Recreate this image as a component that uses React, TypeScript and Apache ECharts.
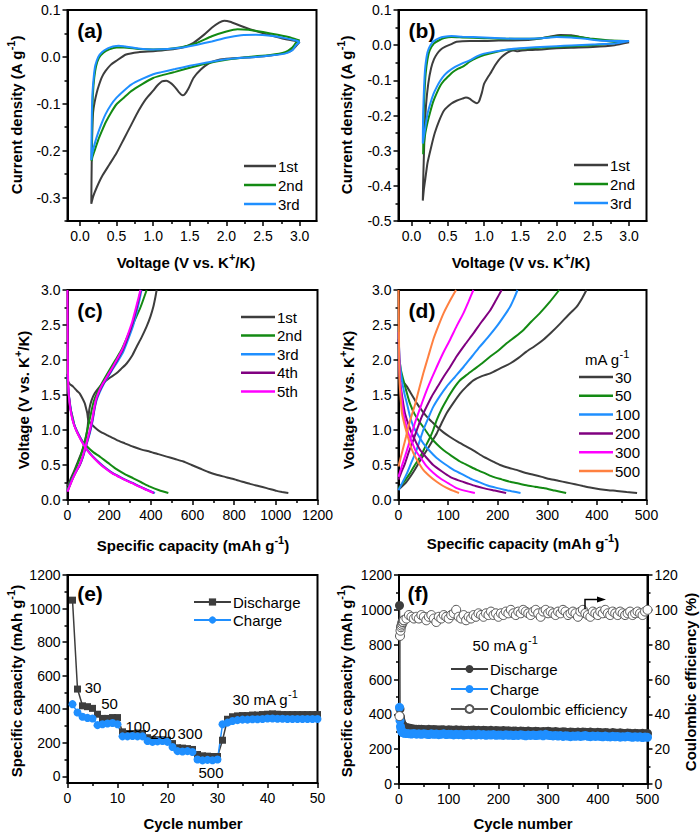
import React, { useEffect, useRef } from 'react';
import * as echarts from 'echarts';

// ---------------- DATA ----------------
// (a) CV, [voltage, current density]
const a1st = [[3.0,0.032],[2.9,0.015],[2.8,0.008],[2.6,0.003],[2.4,0.0],[2.2,-0.002],[2.0,-0.004],[1.85,-0.008],[1.75,-0.015],[1.65,-0.027],[1.55,-0.045],[1.48,-0.068],[1.43,-0.08],[1.4,-0.082],[1.35,-0.075],[1.3,-0.065],[1.25,-0.057],[1.18,-0.051],[1.12,-0.052],[1.05,-0.062],[1.0,-0.072],[0.9,-0.09],[0.8,-0.115],[0.7,-0.145],[0.6,-0.175],[0.5,-0.205],[0.4,-0.23],[0.3,-0.255],[0.23,-0.278],[0.18,-0.298],[0.155,-0.313],
  [0.158,-0.26],[0.163,-0.2],[0.17,-0.15],[0.18,-0.118],[0.2,-0.097],[0.23,-0.076],[0.26,-0.06],[0.3,-0.043],[0.35,-0.03],[0.42,-0.017],[0.49,-0.009],[0.63,0.005],[0.8,0.01],[1.0,0.012],[1.2,0.015],[1.4,0.02],[1.55,0.03],[1.7,0.048],[1.8,0.062],[1.9,0.073],[1.97,0.077],[2.05,0.075],[2.2,0.066],[2.4,0.055],[2.6,0.046],[2.8,0.038],[2.95,0.034],[3.0,0.032]];
const a2nd = [[3.0,0.035],[2.95,0.03],[2.9,0.02],[2.8,0.01],[2.6,0.004],[2.3,0.0],[2.0,-0.006],[1.7,-0.015],[1.5,-0.023],[1.3,-0.032],[1.1,-0.04],[1.0,-0.045],[0.85,-0.058],[0.7,-0.073],[0.6,-0.087],[0.5,-0.101],[0.42,-0.12],[0.35,-0.14],[0.3,-0.158],[0.25,-0.177],[0.2,-0.2],[0.17,-0.214],[0.16,-0.222],
  [0.163,-0.19],[0.168,-0.13],[0.177,-0.08],[0.195,-0.045],[0.22,-0.02],[0.26,-0.002],[0.32,0.009],[0.4,0.016],[0.5,0.02],[0.6,0.02],[0.8,0.017],[1.0,0.016],[1.2,0.017],[1.4,0.021],[1.6,0.03],[1.8,0.044],[2.0,0.054],[2.15,0.059],[2.3,0.058],[2.5,0.053],[2.7,0.047],[2.9,0.04],[3.0,0.035]];
const a3rd = [[3.0,0.032],[2.95,0.025],[2.9,0.014],[2.8,0.007],[2.6,0.003],[2.4,0.0],[2.0,-0.005],[1.7,-0.013],[1.5,-0.019],[1.3,-0.026],[1.1,-0.033],[1.0,-0.037],[0.85,-0.047],[0.7,-0.059],[0.6,-0.072],[0.5,-0.087],[0.42,-0.103],[0.35,-0.122],[0.3,-0.14],[0.25,-0.161],[0.2,-0.186],[0.17,-0.205],[0.155,-0.22],
  [0.158,-0.18],[0.163,-0.12],[0.172,-0.075],[0.19,-0.04],[0.21,-0.018],[0.25,0.0],[0.3,0.01],[0.38,0.018],[0.45,0.022],[0.53,0.024],[0.62,0.022],[0.8,0.018],[1.0,0.016],[1.2,0.017],[1.4,0.02],[1.6,0.026],[1.8,0.033],[2.0,0.041],[2.2,0.046],[2.4,0.047],[2.6,0.045],[2.8,0.04],[2.95,0.035],[3.0,0.032]];

// (b) CV
const b1st = [[3.0,0.008],[2.8,0.0],[2.5,-0.005],[2.2,-0.007],[2.0,-0.009],[1.8,-0.012],[1.6,-0.014],[1.5,-0.016],[1.45,-0.017],[1.4,-0.015],[1.35,-0.018],[1.3,-0.024],[1.25,-0.032],[1.2,-0.043],[1.15,-0.058],[1.1,-0.076],[1.05,-0.092],[1.0,-0.11],[0.97,-0.135],[0.93,-0.16],[0.9,-0.165],[0.85,-0.16],[0.8,-0.152],[0.75,-0.149],[0.7,-0.152],[0.62,-0.158],[0.55,-0.166],[0.45,-0.185],[0.38,-0.215],[0.32,-0.25],[0.27,-0.29],[0.22,-0.335],[0.19,-0.38],[0.17,-0.41],[0.155,-0.442],
  [0.16,-0.39],[0.168,-0.33],[0.18,-0.25],[0.2,-0.17],[0.23,-0.11],[0.27,-0.065],[0.31,-0.04],[0.35,-0.025],[0.4,-0.013],[0.46,-0.005],[0.55,0.003],[0.62,0.0095],[0.8,0.012],[1.0,0.012],[1.2,0.013],[1.5,0.014],[1.7,0.017],[1.9,0.024],[2.05,0.029],[2.2,0.028],[2.4,0.02],[2.6,0.014],[2.8,0.012],[3.0,0.01]];
const b2nd = [[2.95,0.012],[2.8,0.006],[2.5,0.0],[2.2,-0.003],[2.0,-0.005],[1.7,-0.008],[1.5,-0.01],[1.3,-0.014],[1.15,-0.02],[1.0,-0.028],[0.9,-0.036],[0.8,-0.047],[0.75,-0.055],[0.7,-0.062],[0.65,-0.066],[0.6,-0.072],[0.55,-0.08],[0.5,-0.09],[0.45,-0.1],[0.4,-0.114],[0.35,-0.135],[0.3,-0.16],[0.26,-0.188],[0.22,-0.22],[0.19,-0.25],[0.17,-0.28],[0.16,-0.31],
  [0.163,-0.25],[0.167,-0.2],[0.18,-0.13],[0.195,-0.08],[0.22,-0.04],[0.25,-0.015],[0.31,0.005],[0.38,0.014],[0.45,0.02],[0.55,0.023],[0.7,0.022],[1.0,0.02],[1.3,0.018],[1.6,0.018],[1.8,0.02],[2.0,0.025],[2.15,0.026],[2.3,0.024],[2.5,0.018],[2.7,0.014],[2.95,0.012]];
const b3rd = [[3.0,0.012],[2.8,0.005],[2.5,0.002],[2.2,-0.001],[2.0,-0.003],[1.7,-0.006],[1.5,-0.009],[1.3,-0.013],[1.15,-0.018],[1.0,-0.024],[0.9,-0.032],[0.8,-0.043],[0.7,-0.052],[0.6,-0.062],[0.5,-0.076],[0.45,-0.086],[0.4,-0.1],[0.35,-0.118],[0.3,-0.14],[0.26,-0.165],[0.22,-0.195],[0.19,-0.233],[0.17,-0.26],[0.155,-0.28],
  [0.158,-0.22],[0.165,-0.16],[0.177,-0.1],[0.19,-0.06],[0.22,-0.02],[0.26,0.0],[0.31,0.012],[0.38,0.02],[0.45,0.024],[0.55,0.026],[0.7,0.024],[1.0,0.022],[1.3,0.019],[1.5,0.018],[1.8,0.02],[2.0,0.023],[2.2,0.022],[2.4,0.018],[2.6,0.013],[2.8,0.012],[3.0,0.012]];

// (c) charge/discharge profiles, [capacity, voltage]
const c1Dis = [[0,1.71],[10,1.66],[27,1.62],[45,1.56],[59,1.52],[72,1.45],[83,1.38],[90,1.3],[95,1.24],[99,1.15],[110,1.1],[130,1.04],[155,0.98],[195,0.92],[235,0.86],[275,0.81],[316,0.76],[356,0.72],[396,0.69],[436,0.655],[476,0.62],[516,0.585],[556,0.55],[596,0.5],[636,0.45],[676,0.4],[716,0.36],[756,0.33],[796,0.3],[836,0.265],[876,0.23],[916,0.2],[956,0.17],[1004,0.13],[1030,0.115],[1060,0.1]];
const c1Chg = [[0,0.2],[15,0.3],[30,0.4],[50,0.55],[70,0.7],[85,0.85],[95,1.0],[100,1.15],[105,1.3],[115,1.42],[130,1.52],[150,1.6],[171,1.67],[200,1.74],[235,1.81],[260,1.88],[284,1.95],[310,2.06],[332,2.19],[355,2.32],[380,2.48],[398,2.62],[412,2.76],[422,2.9],[428,3.0]];
const c2Dis = [[0,1.75],[3,1.6],[8,1.45],[15,1.3],[25,1.18],[35,1.05],[50,0.95],[70,0.85],[95,0.76],[125,0.68],[155,0.62],[195,0.53],[235,0.44],[275,0.37],[316,0.31],[356,0.25],[396,0.19],[440,0.14],[484,0.1]];
const c2Chg = [[0,0.15],[20,0.3],[40,0.45],[60,0.6],[80,0.8],[95,1.0],[110,1.2],[125,1.4],[145,1.55],[171,1.7],[200,1.85],[230,2.0],[260,2.15],[290,2.35],[320,2.55],[350,2.75],[380,3.0]];
const c3Dis = [[0,1.78],[5,1.55],[12,1.38],[19,1.24],[30,1.1],[43,1.0],[60,0.9],[75,0.81],[100,0.7],[123,0.62],[155,0.53],[187,0.45],[220,0.38],[252,0.33],[285,0.28],[316,0.24],[350,0.19],[380,0.15],[400,0.125],[420,0.1]];
const c3Chg = [[0,0.13],[20,0.28],[40,0.4],[59,0.5],[75,0.62],[90,0.78],[107,0.95],[120,1.12],[130,1.3],[139,1.42],[155,1.54],[171,1.64],[195,1.76],[219,1.88],[245,2.0],[268,2.12],[292,2.3],[316,2.5],[333,2.7],[345,2.85],[355,3.0]];
const c4Dis = [[0,1.8],[5,1.55],[11,1.38],[18,1.24],[29,1.1],[42,1.0],[58,0.9],[74,0.81],[98,0.7],[121,0.62],[152,0.53],[184,0.45],[217,0.38],[249,0.33],[282,0.28],[313,0.24],[346,0.19],[376,0.15],[396,0.125],[415,0.1]];
const c4Chg = [[0,0.12],[20,0.27],[40,0.4],[59,0.5],[75,0.63],[90,0.79],[106,0.96],[119,1.13],[129,1.3],[138,1.43],[153,1.55],[170,1.65],[194,1.77],[218,1.89],[243,2.02],[266,2.15],[290,2.33],[313,2.53],[330,2.72],[342,2.87],[352,3.0]];
const c5Dis = [[0,3.0],[1,2.4],[2,1.85],[5,1.56],[10,1.38],[17,1.24],[28,1.1],[41,1.0],[57,0.9],[73,0.81],[97,0.7],[120,0.62],[150,0.53],[182,0.45],[215,0.38],[247,0.33],[280,0.28],[311,0.24],[344,0.19],[374,0.15],[394,0.125],[412,0.1]];
const c5Chg = [[0,0.12],[20,0.27],[40,0.4],[59,0.51],[75,0.64],[90,0.8],[105,0.97],[118,1.14],[128,1.31],[137,1.44],[152,1.56],[169,1.66],[193,1.78],[217,1.9],[241,2.03],[264,2.16],[288,2.35],[311,2.55],[328,2.74],[340,2.88],[350,3.0]];

// (d) rate profiles, [capacity, voltage]
const d30Dis = [[2,1.75],[8,1.7],[17,1.62],[27,1.5],[37,1.38],[47,1.28],[57,1.19],[67,1.12],[77,1.05],[90,0.97],[104,0.9],[120,0.83],[138,0.76],[155,0.69],[171,0.62],[188,0.56],[205,0.5],[222,0.46],[238,0.43],[255,0.39],[272,0.36],[289,0.33],[305,0.3],[322,0.275],[339,0.25],[356,0.225],[372,0.2],[389,0.175],[406,0.155],[423,0.14],[440,0.13],[460,0.115],[481,0.1]];
const d30Chg = [[0,0.15],[15,0.25],[30,0.4],[45,0.58],[57,0.71],[67,0.83],[77,0.95],[87,1.1],[97,1.24],[110,1.38],[124,1.52],[137,1.62],[151,1.71],[168,1.77],[185,1.81],[205,1.88],[225,1.95],[242,2.03],[258,2.12],[275,2.2],[292,2.29],[309,2.4],[326,2.52],[342,2.64],[359,2.76],[370,2.88],[379,3.0]];
const d50Dis = [[2,2.0],[5,1.85],[10,1.71],[16,1.55],[23,1.38],[33,1.22],[44,1.1],[54,1.0],[64,0.9],[77,0.8],[91,0.71],[107,0.63],[124,0.55],[141,0.49],[158,0.43],[175,0.38],[191,0.33],[208,0.295],[225,0.26],[242,0.235],[258,0.21],[275,0.19],[292,0.17],[315,0.135],[338,0.1]];
const d50Chg = [[0,0.17],[12,0.27],[23,0.38],[33,0.5],[44,0.62],[54,0.76],[64,0.9],[70,1.0],[77,1.14],[87,1.3],[97,1.43],[110,1.58],[124,1.71],[138,1.79],[151,1.86],[168,1.95],[185,2.05],[202,2.14],[218,2.24],[235,2.33],[252,2.43],[268,2.55],[285,2.67],[305,2.83],[324,3.0]];
const d100Dis = [[1,2.2],[3,1.95],[7,1.71],[12,1.52],[17,1.38],[23,1.2],[30,1.05],[40,0.92],[50,0.81],[63,0.7],[77,0.6],[94,0.51],[111,0.43],[128,0.37],[144,0.31],[161,0.26],[178,0.21],[194,0.18],[211,0.15],[228,0.125],[246,0.1]];
const d100Chg = [[0,0.14],[8,0.25],[17,0.38],[25,0.52],[34,0.67],[42,0.83],[50,1.0],[60,1.17],[70,1.33],[83,1.48],[97,1.62],[114,1.76],[131,1.9],[148,2.05],[164,2.19],[181,2.33],[198,2.48],[212,2.62],[225,2.76],[233,2.88],[240,3.0]];
const d200Dis = [[0.5,2.3],[1.5,2.0],[3,1.71],[8,1.45],[13,1.24],[20,1.08],[27,0.95],[35,0.83],[44,0.71],[57,0.6],[70,0.5],[87,0.41],[104,0.33],[121,0.28],[138,0.24],[155,0.2],[171,0.17],[194,0.135],[217,0.1]];
const d200Chg = [[0,0.29],[6,0.4],[13,0.52],[21,0.69],[30,0.86],[38,1.02],[47,1.19],[57,1.34],[67,1.48],[79,1.62],[91,1.76],[104,1.9],[117,2.05],[134,2.22],[151,2.38],[168,2.55],[185,2.71],[197,2.86],[208,3.0]];
const d300Dis = [[0.5,2.4],[1.5,2.0],[3,1.71],[6,1.48],[10,1.24],[15,1.08],[20,0.95],[27,0.83],[34,0.71],[45,0.6],[57,0.48],[70,0.39],[84,0.31],[100,0.24],[117,0.17],[135,0.13],[154,0.1]];
const d300Chg = [[0,0.33],[6,0.47],[13,0.62],[20,0.78],[27,0.95],[33,1.1],[40,1.24],[48,1.4],[57,1.57],[67,1.74],[77,1.9],[90,2.1],[104,2.29],[117,2.48],[131,2.67],[141,2.83],[151,3.0]];
const d500Dis = [[0,3.0],[0.5,2.7],[1,2.3],[2,1.71],[4,1.48],[7,1.24],[12,1.08],[17,0.95],[23,0.8],[30,0.67],[40,0.54],[50,0.43],[63,0.34],[77,0.26],[90,0.2],[104,0.15],[113,0.125],[122,0.1]];
const d500Chg = [[0,0.48],[5,0.62],[10,0.76],[15,0.9],[20,1.05],[27,1.22],[34,1.38],[42,1.6],[50,1.81],[60,2.05],[70,2.29],[80,2.48],[91,2.67],[104,2.85],[116,3.0]];

// (e) rate capability
const eCycles = [1,2,3,4,5,6,7,8,9,10,11,12,13,14,15,16,17,18,19,20,21,22,23,24,25,26,27,28,29,30,31,32,33,34,35,36,37,38,39,40,41,42,43,44,45,46,47,48,49,50];
const eDischarge = [1050,520,420,415,405,370,345,345,350,350,265,255,255,258,255,230,220,218,218,215,195,170,168,165,160,130,122,120,118,118,215,340,355,360,362,362,365,365,368,370,372,370,368,368,368,368,368,368,368,368];
const eCharge = [430,380,355,348,345,305,310,315,318,310,238,238,240,238,238,210,205,208,210,205,175,150,148,150,145,100,95,98,96,100,310,320,330,335,338,338,340,340,342,345,345,343,343,342,342,342,342,342,342,342];
const eRateLabels = ['30','50','100','200','300','500'];

// (f) long cycling at 50 mA g-1
const fCycles = [1,2,3,4,5,6,7,8,9,10,
  15,20,25,30,35,40,45,50,55,60,65,70,75,80,85,90,95,100,
  105,110,115,120,125,130,135,140,145,150,155,160,165,170,175,180,185,190,195,200,
  205,210,215,220,225,230,235,240,245,250,255,260,265,270,275,280,285,290,295,300,
  305,310,315,320,325,330,335,340,345,350,355,360,365,370,375,380,385,390,395,400,
  405,410,415,420,425,430,435,440,445,450,455,460,465,470,475,480,485,490,495,500];
const fDischarge = [1025,430,385,365,352,345,340,336,333,330,
  325,322,318,316,315,314,315,313,312,314,311,313,312,310,312,311,309,311,
  310,309,311,308,310,309,307,309,308,310,307,308,306,309,307,306,308,305,307,306,
  305,307,304,306,303,305,304,302,305,303,301,304,302,300,303,301,299,302,300,303,
  300,298,301,299,297,300,298,296,299,297,295,298,296,299,297,295,298,296,294,297,
  295,293,296,294,292,295,293,291,294,292,290,293,291,289,292,290,288,291,289,290];
const fCharge = [440,365,330,315,305,300,297,295,293,292,
  290,289,287,290,286,288,285,289,286,284,288,285,287,283,286,288,284,286,
  285,282,286,283,285,281,284,286,282,284,281,285,282,284,280,283,281,284,280,282,
  281,279,283,280,282,278,281,279,283,280,277,281,279,282,278,280,283,277,285,280,
  278,276,279,275,278,273,277,275,272,276,274,277,273,275,278,274,272,276,273,275,
  273,271,275,272,270,274,271,273,269,272,270,274,271,268,272,269,271,267,270,268];
const fEfficiency = [39,85,88,90,91,92,93,93,94,94,
  95,97,96,95,96,95,97,96,94,96,97,95,93,96,95,97,96,95,
  97,98,100,96,95,97,94,96,95,97,96,98,97,96,98,97,99,97,98,96,
  98,97,99,98,100,98,97,99,98,100,99,98,97,99,100,98,96,99,100,98,
  99,98,97,99,98,100,99,97,98,99,98,96,99,100,98,97,96,99,98,97,
  99,98,100,98,97,99,98,97,99,98,97,98,99,97,98,99,98,97,99,100];

// tick labels
const cvTicks = [0, 0.5, 1.0, 1.5, 2.0, 2.5, 3.0];
const aCurrentTicks = [-0.3, -0.2, -0.1, 0.0, 0.1];
const bCurrentTicks = [-0.5, -0.4, -0.3, -0.2, -0.1, 0.0, 0.1];
const voltTicks = [0, 0.5, 1.0, 1.5, 2.0, 2.5, 3.0];
const cCapTicks = [0, 200, 400, 600, 800, 1000, 1200];
const dCapTicks = [0, 100, 200, 300, 400, 500];
const eCycleTicks = [0, 10, 20, 30, 40, 50];
const capTicks = [0, 200, 400, 600, 800, 1000, 1200];
const fCycleTicks = [0, 100, 200, 300, 400, 500];
const ceTicks = [0, 20, 40, 60, 80, 100, 120];

// ---------------- STYLE ----------------
const FONT = 'Arial, "Liberation Sans", Helvetica, sans-serif';
const GRAY = '#3d3d3d';
const GREEN = '#138a13';
const BLUE = '#1f8fff';
const PURPLE = '#800080';
const MAGENTA = '#ff00ff';
const ORANGE = '#ff8040';

function mids(t: number[], lo: number, hi: number) {
  const out: number[] = [];
  const step = t[1] - t[0];
  for (let v = t[0] - step / 2; v <= hi + 1e-9; v += step) {
    if (v >= lo - 1e-9) out.push(+v.toFixed(4));
  }
  return out.filter((v) => !t.some((m) => Math.abs(m - v) < 1e-6));
}

function axisPair(gridIndex: number, min: number, max: number, major: number[], digits: number, position: string) {
  const minor = mids(major, min, max);
  const main: any = {
    type: 'value', gridIndex, min, max, position,
    axisLine: { show: true, onZero: false, lineStyle: { color: '#000', width: 2 } },
    axisTick: { show: true, inside: false, length: 5, lineStyle: { color: '#000', width: 1.5 }, customValues: major },
    axisLabel: { show: true, customValues: major, formatter: (v: number) => v.toFixed(digits), color: '#000', fontSize: 14, fontFamily: FONT, margin: position === 'bottom' ? 8 : 7 },
    splitLine: { show: false },
  };
  const mnr: any = {
    type: 'value', gridIndex, min, max, position,
    axisLine: { show: false, onZero: false },
    axisTick: { show: true, inside: false, length: 3, lineStyle: { color: '#000', width: 1.5 }, customValues: minor },
    axisLabel: { show: false },
    splitLine: { show: false },
  };
  return [main, mnr];
}

const rich = {
  b: { fontSize: 15, fontWeight: 'bold', fontFamily: FONT, fill: '#000', lineHeight: 22 },
  bs: { fontSize: 11, fontWeight: 'bold', fontFamily: FONT, fill: '#000', verticalAlign: 'top', lineHeight: 12 },
  n: { fontSize: 15, fontFamily: FONT, fill: '#000', lineHeight: 22 },
  ns: { fontSize: 11, fontFamily: FONT, fill: '#000', verticalAlign: 'top', lineHeight: 12 },
};

function txt(x: number, y: number, text: string, rot = 0) {
  return {
    type: 'text', x, y, rotation: rot, z: 100,
    style: { text, rich, align: 'center', verticalAlign: 'middle', fill: '#000' },
  };
}

function curve(name: string, data: number[][], color: string, gi: number, smooth = 0.2) {
  return {
    type: 'line', name, data, xAxisIndex: 2 * gi, yAxisIndex: 2 * gi,
    symbol: 'none', showSymbol: false, smooth, clip: true,
    lineStyle: { color, width: 2 }, itemStyle: { color },
  };
}

function buildOption() {
  const grids = [
    { left: 67.5, top: 10, width: 249, height: 211 },
    { left: 398.5, top: 10, width: 248, height: 211 },
    { left: 67.5, top: 290, width: 250, height: 210 },
    { left: 398.5, top: 290, width: 248, height: 210 },
    { left: 67.5, top: 575, width: 250, height: 208 },
    { left: 399, top: 575, width: 248.5, height: 209 },
  ];
  const xAxis: any[] = [
    ...axisPair(0, -0.17, 3.23, cvTicks, 1, 'bottom'),
    ...axisPair(1, -0.18, 3.24, cvTicks, 1, 'bottom'),
    ...axisPair(2, 0, 1200, cCapTicks, 0, 'bottom'),
    ...axisPair(3, 0, 500, dCapTicks, 0, 'bottom'),
    ...axisPair(4, 0, 50, eCycleTicks, 0, 'bottom'),
    ...axisPair(5, 0, 500, fCycleTicks, 0, 'bottom'),
  ];
  const yAxis: any[] = [
    ...axisPair(0, -0.35, 0.1, aCurrentTicks, 1, 'left'),
    ...axisPair(1, -0.5, 0.1, bCurrentTicks, 1, 'left'),
    ...axisPair(2, 0, 3, voltTicks, 1, 'left'),
    ...axisPair(3, 0, 3, voltTicks, 1, 'left'),
    ...axisPair(4, -40, 1200, capTicks, 0, 'left'),
    ...axisPair(5, 0, 1200, capTicks, 0, 'left'),
    ...axisPair(5, 0, 120, ceTicks, 0, 'right'),
  ];

  const series: any[] = [
    curve('1st', a1st, GRAY, 0), curve('2nd', a2nd, GREEN, 0), curve('3rd', a3rd, BLUE, 0),
    curve('1st', b1st, GRAY, 1), curve('2nd', b2nd, GREEN, 1), curve('3rd', b3rd, BLUE, 1),
    curve('1st', c1Dis, GRAY, 2), curve('1st', c1Chg, GRAY, 2),
    curve('2nd', c2Dis, GREEN, 2), curve('2nd', c2Chg, GREEN, 2),
    curve('3rd', c3Dis, BLUE, 2), curve('3rd', c3Chg, BLUE, 2),
    curve('4th', c4Dis, PURPLE, 2), curve('4th', c4Chg, PURPLE, 2),
    curve('5th', c5Dis, MAGENTA, 2), curve('5th', c5Chg, MAGENTA, 2),
    curve('30', d30Dis, GRAY, 3), curve('30', d30Chg, GRAY, 3),
    curve('50', d50Dis, GREEN, 3), curve('50', d50Chg, GREEN, 3),
    curve('100', d100Dis, BLUE, 3), curve('100', d100Chg, BLUE, 3),
    curve('200', d200Dis, PURPLE, 3), curve('200', d200Chg, PURPLE, 3),
    curve('300', d300Dis, MAGENTA, 3), curve('300', d300Chg, MAGENTA, 3),
    curve('500', d500Dis, ORANGE, 3), curve('500', d500Chg, ORANGE, 3),
    {
      type: 'line', name: 'Discharge', data: eCycles.map((c, i) => [c, eDischarge[i]]),
      xAxisIndex: 8, yAxisIndex: 8, symbol: 'rect', symbolSize: 7,
      lineStyle: { color: GRAY, width: 1.5 }, itemStyle: { color: GRAY },
    },
    {
      type: 'line', name: 'Charge', data: eCycles.map((c, i) => [c, eCharge[i]]),
      xAxisIndex: 8, yAxisIndex: 8, symbol: 'circle', symbolSize: 8,
      lineStyle: { color: BLUE, width: 1.5 }, itemStyle: { color: BLUE },
    },
    {
      type: 'line', name: 'fDischarge', data: fCycles.map((c, i) => [c, fDischarge[i]]),
      xAxisIndex: 10, yAxisIndex: 10, symbol: 'circle', symbolSize: 9,
      lineStyle: { color: GRAY, width: 1.5 }, itemStyle: { color: GRAY },
    },
    {
      type: 'line', name: 'fCharge', data: fCycles.map((c, i) => [c, fCharge[i]]),
      xAxisIndex: 10, yAxisIndex: 10, symbol: 'circle', symbolSize: 9,
      lineStyle: { color: BLUE, width: 1.5 }, itemStyle: { color: BLUE },
    },
    {
      type: 'line', name: 'Coulombic efficiency', data: fCycles.map((c, i) => [c, fEfficiency[i]]),
      xAxisIndex: 10, yAxisIndex: 12, symbol: 'circle', symbolSize: 9,
      lineStyle: { color: '#555', width: 1 }, itemStyle: { color: '#fff', borderColor: '#555', borderWidth: 1 },
    },
  ];

  // legends of plain curves: a short line only
  const lineItems = (names: string[]) => names.map((name) => ({ name, icon: 'rect' }));
  const lg = (data: any[], left: number, top: number, itemWidth: number, itemHeight: number, itemGap: number, formatter?: any) => ({
    data, left, top, orient: 'vertical', itemWidth, itemHeight, itemGap, padding: 0,
    selectedMode: false, formatter,
    textStyle: { fontSize: 15, color: '#000', fontFamily: FONT, lineHeight: 16, padding: [0, 0, 0, -3] },
  });

  const legend = [
    lg(lineItems(['1st', '2nd', '3rd']), 244, 158, 32, 2.5, 3),
    lg(lineItems(['1st', '2nd', '3rd']), 574, 157, 34, 2.5, 3),
    lg(lineItems(['1st', '2nd', '3rd', '4th', '5th']), 241, 309, 34, 2.5, 2.6),
    lg(lineItems(['30', '50', '100', '200', '300', '500']), 579, 369, 34, 2.5, 2.8),
    lg(['Discharge', 'Charge'], 193, 594, 37, 9, 2),
    lg(['fDischarge', 'fCharge', 'Coulombic efficiency'], 450, 661, 37, 10, 4),
  ].map((l, i) => (i === 5 ? { ...l, formatter: (n: string) => (n === 'fDischarge' ? 'Discharge' : n === 'fCharge' ? 'Charge' : n) } : l));

  const R = Math.PI / 2;
  const panel = (x: number, y: number, s: string) => ({
    type: 'text', x, y, z: 100,
    style: { text: s, font: `bold 21px ${FONT}`, fill: '#000', align: 'center', verticalAlign: 'middle' },
  });
  const elements: any[] = [
    panel(90, 30, '(a)'), panel(422, 30, '(b)'), panel(90, 310, '(c)'),
    panel(422, 310, '(d)'), panel(90, 593, '(e)'), panel(418, 593, '(f)'),
    txt(186, 262, '{b|Voltage (V vs. K}{bs|+}{b|/K)}'),
    txt(521, 262, '{b|Voltage (V vs. K}{bs|+}{b|/K)}'),
    txt(16, 115, '{b|Current density (A g}{bs|-1}{b|)}', R),
    txt(346, 115, '{b|Current density (A g}{bs|-1}{b|)}', R),
    txt(193, 545, '{b|Specific capacity (mAh g}{bs|-1}{b|)}'),
    txt(523, 543, '{b|Specific capacity (mAh g}{bs|-1}{b|)}'),
    txt(23, 400, '{b|Voltage (V vs. K}{bs|+}{b|/K)}', R),
    txt(348, 400, '{b|Voltage (V vs. K}{bs|+}{b|/K)}', R),
    txt(193, 823, '{b|Cycle number}'),
    txt(523, 823, '{b|Cycle number}'),
    txt(16, 681, '{b|Specific capacity (mAh g}{bs|-1}{b|)}', R),
    txt(346, 681, '{b|Specific capacity (mAh g}{bs|-1}{b|)}', R),
    txt(690, 682, '{b|Coulombic efficiency (%)}', R),
    txt(607, 359, '{n|mA g}{ns|-1}'),
    txt(93, 687, `{n|${eRateLabels[0]}}`),
    txt(109.5, 703, `{n|${eRateLabels[1]}}`),
    txt(138, 726, `{n|${eRateLabels[2]}}`),
    txt(163, 733, `{n|${eRateLabels[3]}}`),
    txt(190, 733, `{n|${eRateLabels[4]}}`),
    txt(211, 772, `{n|${eRateLabels[5]}}`),
    txt(265, 699, '{n|30 mA g}{ns|-1}'),
    txt(505, 645, '{n|50 mA g}{ns|-1}'),
    { type: 'polyline', z: 100, shape: { points: [[585, 609], [585, 599.5], [600, 599.5]] }, style: { stroke: '#000', lineWidth: 1.5, fill: null } },
    { type: 'polygon', z: 100, shape: { points: [[597, 596.5], [606, 599.5], [597, 602.5]] }, style: { fill: '#000' } },
  ];

  return {
    animation: false,
    backgroundColor: '#ffffff',
    textStyle: { fontFamily: FONT },
    grid: grids.map((g) => ({ ...g, show: true, borderColor: '#000', borderWidth: 2, backgroundColor: 'transparent', containLabel: false })),
    xAxis, yAxis, series, legend,
    graphic: { elements },
  };
}

export default function App() {
  const ref = useRef<HTMLDivElement>(null);
  useEffect(() => {
    document.body.style.margin = '0';
    if (!ref.current) return;
    const chart = echarts.init(ref.current, undefined, { renderer: 'svg' });
    chart.setOption(buildOption() as any);
    return () => chart.dispose();
  }, []);
  return <div ref={ref} style={{ width: 700, height: 833 }} />;
}
